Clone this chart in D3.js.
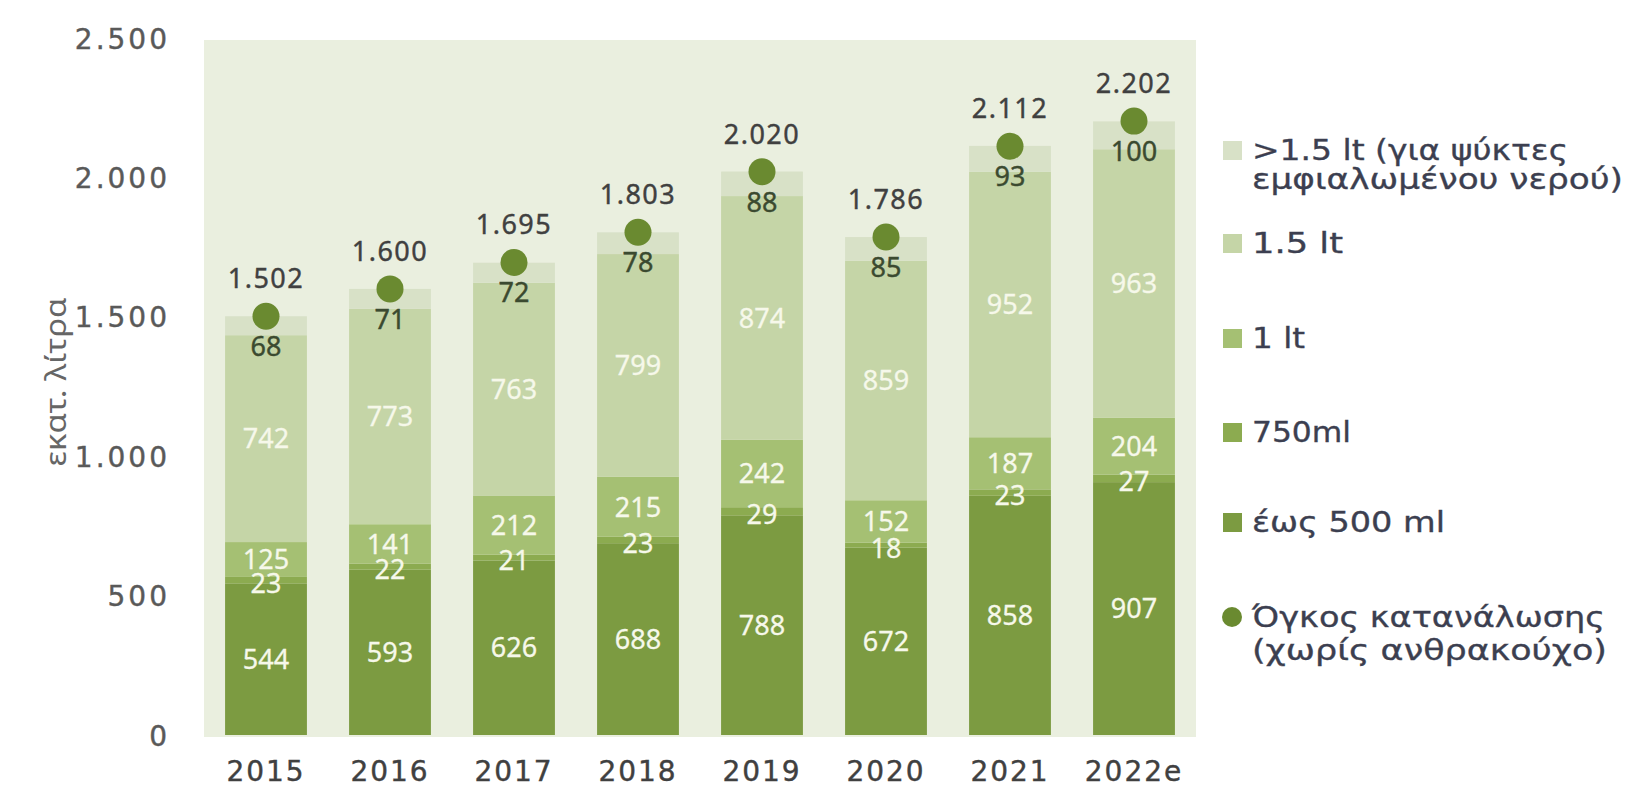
<!DOCTYPE html>
<html><head><meta charset="utf-8">
<script src="https://cdn.jsdelivr.net/npm/d3@7"></script>
<style>body{margin:0;background:#fff;}svg{display:block;}</style>
</head><body>
<svg id="c" width="1628" height="789"></svg>
<script>
const years = ["2015","2016","2017","2018","2019","2020","2021","2022e"];
const upTo500 = [544, 593, 626, 688, 788, 672, 858, 907];
const ml750 = [23, 22, 21, 23, 29, 18, 23, 27];
const lt1 = [125, 141, 212, 215, 242, 152, 187, 204];
const lt15 = [742, 773, 763, 799, 874, 859, 952, 963];
const gt15 = [68, 71, 72, 78, 88, 85, 93, 100];
const totals = [1502, 1600, 1695, 1803, 2020, 1786, 2112, 2202];
const yTicks = [0, 500, 1000, 1500, 2000, 2500];
const seriesNames = [">1.5 lt (για ψύκτες|εμφιαλωμένου νερού)", "1.5 lt", "1 lt", "750ml", "έως 500 ml"];
const dotName = "Όγκος κατανάλωσης|(χωρίς ανθρακούχο)";

const colors = {upTo500:"#7c9b41", ml750:"#8cab50", lt1:"#a5c073", lt15:"#c5d5a7", gt15:"#d8e1c7"};
const keys = ["upTo500","ml750","lt1","lt15","gt15"];
const seriesData = {upTo500, ml750, lt1, lt15, gt15};

const rows = years.map((y,i)=>{const r={year:y}; keys.forEach(k=>r[k]=seriesData[k][i]); return r;});
const stack = d3.stack().keys(keys)(rows);

const svg = d3.select("#c");
const x = d3.scaleBand().domain(years).range([204,1196]).paddingInner(0.34).paddingOuter(0.17);
const y = d3.scaleLinear().domain([0,2500]).range([735,38]);
const loc = d3.formatLocale({decimal:",", thousands:".", grouping:[3], currency:["",""]});
const fmt = loc.format(",d");
const TXT = "#404040";

// plot background
svg.append("rect").attr("x",204).attr("y",y(2500)+2).attr("width",992).attr("height",y(0)-y(2500)).attr("fill","#eaefdf");

// y axis
const yAxis = d3.axisLeft(y).tickValues(yTicks).tickFormat(fmt).tickSize(0).tickPadding(0);
const gy = svg.append("g").attr("transform","translate(170,0)").call(yAxis);
gy.select(".domain").remove();
gy.selectAll("text").attr("font-family","DejaVu Sans").attr("font-size",28).attr("fill","#595959")
  .attr("stroke","#595959").attr("stroke-width",0.4).attr("letter-spacing",3).attr("dy","0.36em");

// x axis
const xAxis = d3.axisBottom(x).tickSize(0).tickPadding(0);
const gx = svg.append("g").attr("transform","translate(0,781)").call(xAxis);
gx.select(".domain").remove();
gx.selectAll("text").attr("font-family","DejaVu Sans").attr("font-size",28).attr("fill",TXT)
  .attr("stroke",TXT).attr("stroke-width",0.4).attr("letter-spacing",2).attr("dy","0");

// y title
svg.append("text").attr("transform","translate(66,382) rotate(-90)").attr("text-anchor","middle")
  .attr("font-family","Noto Sans").attr("font-size",29).attr("fill","#666")
  .attr("textLength",169).attr("lengthAdjust","spacingAndGlyphs").text("εκατ. λίτρα");

// bars
stack.forEach(s=>{
  svg.append("g").selectAll("rect").data(s).join("rect")
    .attr("x",d=>x(d.data.year)).attr("width",x.bandwidth())
    .attr("y",d=>y(d[1])).attr("height",d=>y(d[0])-y(d[1]))
    .attr("fill",colors[s.key]);
});

// segment labels
stack.forEach(s=>{
  if (s.key==="gt15") return;
  svg.append("g").selectAll("text").data(s).join("text")
    .attr("x",d=>x(d.data.year)+x.bandwidth()/2)
    .attr("y",d=>{
      let m=(y(d[0])+y(d[1]))/2;
      if (s.key==="ml750") m+=3;
      return m;
    })
    .attr("dy","0.36em").attr("text-anchor","middle")
    .attr("font-family","Noto Sans").attr("font-size",27).attr("fill","#f6f8ea")
    .attr("stroke","#f6f8ea").attr("stroke-width",0.3)
    .text(d=>d.data[s.key]);
});
// top segment labels (below dot)
svg.append("g").selectAll("text").data(years).join("text")
  .attr("x",d=>x(d)+x.bandwidth()/2).attr("y",(d,i)=>y(totals[i])+30).attr("dy","0.36em")
  .attr("text-anchor","middle").attr("font-family","Noto Sans").attr("font-size",27).attr("fill","#3b4a30")
  .attr("stroke","#3b4a30").attr("stroke-width",0.4)
  .text((d,i)=>gt15[i]);

// dots
svg.append("g").selectAll("circle").data(years).join("circle")
  .attr("cx",d=>x(d)+x.bandwidth()/2).attr("cy",(d,i)=>y(totals[i])).attr("r",13.5).attr("fill","#6a8a30");
// total labels
svg.append("g").selectAll("text").data(years).join("text")
  .attr("x",d=>x(d)+x.bandwidth()/2).attr("y",(d,i)=>y(totals[i])-38).attr("dy","0.36em")
  .attr("text-anchor","middle").attr("font-family","Noto Sans").attr("font-size",27).attr("fill",TXT)
  .attr("stroke",TXT).attr("stroke-width",0.4).attr("letter-spacing",1.5)
  .text((d,i)=>fmt(totals[i]));

// legend
const legColors = [colors.gt15, colors.lt15, colors.lt1, colors.ml750, colors.upTo500];
const legY = [150, 243, 338, 432, 522];
const legW = [[316,371],[91],[53],[99],[193]];
const lg = svg.append("g");
const legText = (t,xx,yy,w)=>lg.append("text").attr("x",xx).attr("y",yy).attr("dy","0.36em")
  .attr("font-family","DejaVu Sans").attr("font-size",29).attr("fill","#3c3f50")
  .attr("stroke","#3c3f50").attr("stroke-width",0.35)
  .attr("textLength",w).attr("lengthAdjust","spacingAndGlyphs").text(t);
seriesNames.forEach((n,i)=>{
  lg.append("rect").attr("x",1223).attr("y",legY[i]-9).attr("width",19).attr("height",19).attr("fill",legColors[i]);
  n.split("|").forEach((l,j)=>legText(l,1252,legY[i]+j*29,legW[i][j]));
});
lg.append("circle").attr("cx",1232).attr("cy",617).attr("r",10).attr("fill","#6a8a30");
const dotW = [353,355];
dotName.split("|").forEach((l,j)=>legText(l,1252,617+j*33,dotW[j]));
</script>
</body></html>
